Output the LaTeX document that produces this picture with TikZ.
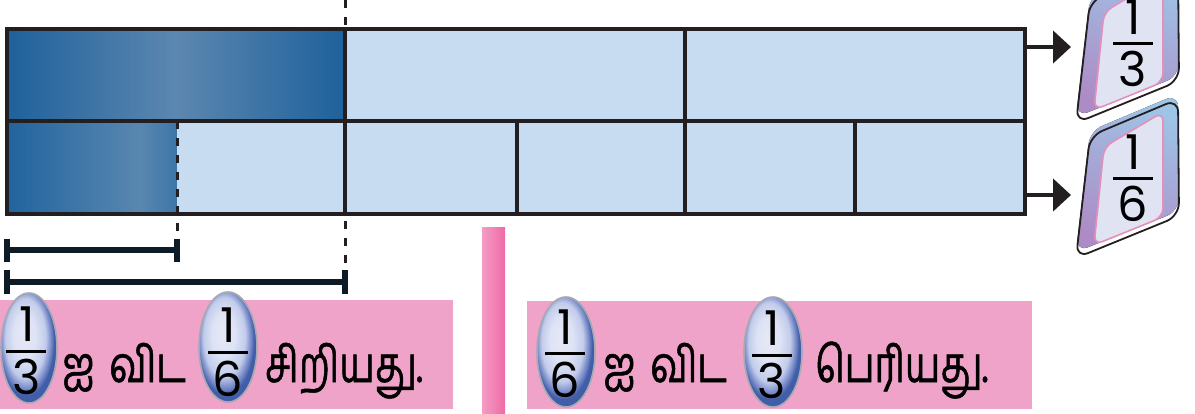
\documentclass[tikz,border=0pt]{standalone}
\usepackage{fontspec}
\setmainfont{Poppins}
\newfontfamily\tamil[Script=Tamil, FakeStretch=0.75, FakeBold=1, WordSpace=1.6]{Hind Madurai}
\usetikzlibrary{arrows.meta,calc}
\definecolor{lightcell}{HTML}{C7DCF0}
\definecolor{gridline}{HTML}{231F20}
\definecolor{pinkbox}{HTML}{F0A3C9}
\definecolor{barL}{HTML}{F59CC5}
\definecolor{barR}{HTML}{EE6AA6}
\definecolor{navy}{HTML}{0D1B26}
\definecolor{ovalline}{HTML}{A6A8B2}
\definecolor{cardT}{HTML}{9EC4E6}
\definecolor{cardB}{HTML}{AD8CC6}
\definecolor{panel}{HTML}{E0E3F1}
\definecolor{panelline}{HTML}{E58FBD}
\pgfdeclarehorizontalshading{darkthird}{100bp}{rgb(0bp)=(0.12,0.38,0.61); rgb(25bp)=(0.12,0.38,0.61); rgb(50bp)=(0.36,0.53,0.69); rgb(75bp)=(0.12,0.38,0.61); rgb(100bp)=(0.12,0.38,0.61)}
\pgfdeclarehorizontalshading{darksixth}{100bp}{rgb(0bp)=(0.13,0.39,0.62); rgb(25bp)=(0.13,0.39,0.62); rgb(64bp)=(0.35,0.53,0.69); rgb(75bp)=(0.24,0.46,0.66); rgb(100bp)=(0.24,0.46,0.66)}
\pgfdeclareradialshading{ovalsh}{\pgfpoint{-5bp}{7bp}}{rgb(0bp)=(0.90,0.91,0.96); rgb(10bp)=(0.87,0.89,0.96); rgb(18bp)=(0.76,0.80,0.92); rgb(23bp)=(0.42,0.50,0.76); rgb(25bp)=(0.26,0.37,0.66); rgb(50bp)=(0.20,0.30,0.60)}
\begin{document}
\begin{tikzpicture}[x=1pt,y=-1pt,
  cell/.style={inner sep=0pt, outer sep=0pt, anchor=north west},
  dkthird/.style={cell, shade, shading=darkthird},
  dksixth/.style={cell, shade, shading=darksixth},
  ltcell/.style={cell, fill=lightcell},
  grid/.style={draw=gridline, line width=3.2pt},
  guideline/.style={draw=gridline, line width=3pt, dash pattern=on 8pt off 9pt},
  measure/.style={draw=navy, line width=5.5pt},
  pointer/.style={draw=gridline, line width=4.5pt, -{Triangle[length=18pt,width=32pt]}},
  digit/.style={inner sep=0pt, font=\fontsize{48}{48}\selectfont, text=black},
  fracrule/.style={draw=black, line width=3pt},
  oval/.style={draw=ovalline, line width=1.6pt, shade, shading=ovalsh},
  tamiltext/.style={inner sep=0pt, anchor=base west, font=\tamil\fontsize{50}{50}\selectfont, text=black}
]
\useasboundingbox (0,0) rectangle (1195,413);
\clip (0,0) rectangle (1195,413);

% cells, top row (thirds)
\node[dkthird, minimum width=338pt, minimum height=92pt] (t1) at (7,29) {};
\node[ltcell, minimum width=340pt, minimum height=92pt] (t2) at (345,29) {};
\node[ltcell, minimum width=340pt, minimum height=92pt] (t3) at (685,29) {};
% cells, bottom row (sixths)
\node[dksixth, minimum width=170pt, minimum height=93pt] (b1) at (7,121) {};
\node[ltcell, minimum width=168pt, minimum height=93pt] (b2) at (177,121) {};
\node[ltcell, minimum width=172pt, minimum height=93pt] (b3) at (345,121) {};
\node[ltcell, minimum width=168pt, minimum height=93pt] (b4) at (517,121) {};
\node[ltcell, minimum width=170pt, minimum height=93pt] (b5) at (685,121) {};
\node[ltcell, minimum width=170pt, minimum height=93pt] (b6) at (855,121) {};

% grid lines
\draw[grid] (t1.north west) rectangle (b6.south east);
\draw[grid] (t1.south west) -- (t3.south east);
\draw[grid] (t2.north east) -- (t2.south east);
\draw[grid] (b3.north east) -- (b3.south east);
\draw[grid] (b4.north east) -- (b4.south east);
\draw[grid] (b5.north east) -- (b5.south east);
\draw[grid] (t1.north east) -- (b2.south east);

% dashed guides
\coordinate (g1top) at (345,0);
\coordinate (g1bot) at (345,293);
\coordinate (g2bot) at (177,262);
\draw[guideline] (g1top) -- (g1bot);
\draw[guideline] (b2.north west) -- (g2bot);

% measuring bars
\coordinate (m1a) at (7,250);
\coordinate (m1b) at (177,250);
\coordinate (m2a) at (7,282);
\coordinate (m2b) at (345,282);
\draw[measure] (m1a) -- (m1b);
\draw[measure] ($(m1a)+(0,-11)$) -- ($(m1a)+(0,12)$);
\draw[measure] ($(m1b)+(0,-11)$) -- ($(m1b)+(0,12)$);
\draw[measure] (m2a) -- (m2b);
\draw[measure] ($(m2a)+(0,-12)$) -- ($(m2a)+(0,12)$);
\draw[measure] ($(m2b)+(0,-12)$) -- ($(m2b)+(0,12)$);

% cards
\foreach \s/\num/\den in {135/1/3, 0/1/6}{
  \begin{scope}[yshift=\s pt]
    \fill[top color=cardT, bottom color=cardB, shading angle=-25, rounded corners=13pt]
      (1076,252) -- (1090,131) -- (1178,94) -- (1179,211) -- cycle;
    \draw[gridline, line width=1.8pt, rounded corners=13pt]
      (1076,258) -- (1090,136) -- (1178,99) -- (1179,216) -- cycle;
    \draw[panelline, fill=panel, line width=1.6pt, rounded corners=9pt]
      (1094,245) -- (1104,147) -- (1163,112) -- (1163,217) -- cycle;
    \node[digit] at (1133,152) {\num};
    \draw[fracrule] (1113,178) -- (1153,178);
    \node[digit] at (1133,204) {\den};
  \end{scope}
}
\coordinate (card1) at (1071,47);
\coordinate (card2) at (1071,195);
\draw[pointer] (t3.east |- card1) -- (card1);
\draw[pointer] (b6.east |- card2) -- (card2);

% pink panels
\fill[pinkbox] (0,300) rectangle (453,409);
\fill[pinkbox] (527,301) rectangle (1032,409);
\shade[left color=barL, right color=barR] (482,227) rectangle (505,413);

% left sentence
\path[oval] (29,348) ellipse [x radius=28, y radius=55];
\node[digit] (l1n) at (27,324) {1};
\draw[fracrule] (6,351) -- (46,351);
\node[digit] (l1d) at (27,377) {3};
\node[tamiltext] (l1t) at (62,382) {ஐ விட};
\path[oval] (228,347) ellipse [x radius=29, y radius=55];
\node[digit] (l2n) at (228,325) {1};
\draw[fracrule] (208,352) -- (248,352);
\node[digit] (l2d) at (228,379) {6};
\node[tamiltext] (l2t) at (265,382) {சிறியது.};

% right sentence
\path[oval] (566,352) ellipse [x radius=29, y radius=55];
\node[digit] (r1n) at (565,327) {1};
\draw[fracrule] (545,353) -- (585,353);
\node[digit] (r1d) at (565,380) {6};
\node[tamiltext] (r1t) at (603,382) {ஐ விட};
\path[oval] (773,352) ellipse [x radius=29, y radius=55];
\node[digit] (r2n) at (772,328) {1};
\draw[fracrule] (752,355) -- (792,355);
\node[digit] (r2d) at (772,381) {3};
\node[tamiltext] (r2t) at (815,382) {பெரியது.};
\end{tikzpicture}
\end{document}
